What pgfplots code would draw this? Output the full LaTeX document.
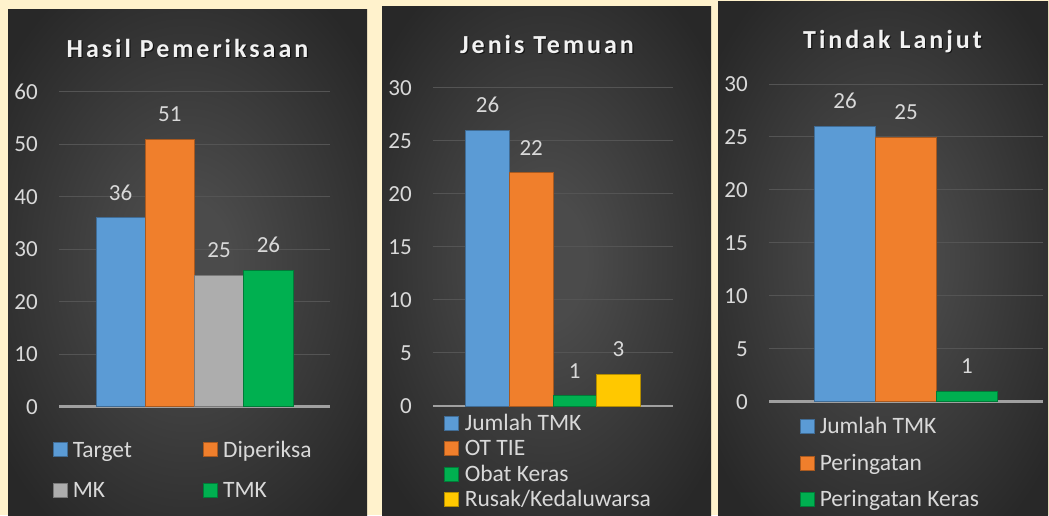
\documentclass[border=0pt]{standalone}
\usepackage{pgfplots}
\pgfplotsset{compat=1.18}
\usepackage{fontspec}
\setmainfont{Carlito}
\newfontfamily\titlefont[LetterSpace=11.5]{Carlito}
\definecolor{bg}{HTML}{FFF2CC}
\definecolor{pin}{HTML}{4B4B4B}
\definecolor{pout}{HTML}{282828}
\definecolor{cblue}{HTML}{5B9BD5}
\definecolor{corange}{HTML}{F07F2C}
\definecolor{cgray}{HTML}{ADADAD}
\definecolor{cgreen}{HTML}{00B050}
\definecolor{cyellow}{HTML}{FFC800}
\definecolor{txt}{HTML}{D9D9D9}
\definecolor{ttl}{HTML}{F2F2F2}
\definecolor{gridc}{HTML}{545454}
\definecolor{zeroc}{HTML}{A0A0A0}
\pgfdeclareradialshading{pshade}{\pgfpoint{0bp}{0bp}}{color(0bp)=(pin); color(6bp)=(pin); color(32bp)=(pout); color(50bp)=(pout)}
\newcommand\tf{\fontsize{23}{27}\selectfont}
\newcommand\lf{\fontsize{23.5}{27}\selectfont}
\pgfplotsset{
  /pgf/number format/assume math mode=true,
  panel/.style={
    scale only axis, ybar, bar shift=0pt, bar width=1,
    axis line style={draw=none}, xtick=\empty,
    major tick length=0pt, ymin=0,
    ymajorgrids, grid style={gridc, line width=1pt},
    extra y ticks={0}, extra y tick style={grid style={zeroc, line width=2.5pt}},
    tick label style={font=\tf, text=txt},
    yticklabel style={inner sep=0pt, xshift=-21pt},
    nodes near coords,
    nodes near coords style={font=\tf, text=txt, anchor=south, inner sep=0pt, yshift=17pt},
    legend cell align=left,
    legend image code/.code={\fill[##1] (0pt,-7pt) rectangle (14pt,7pt); \path[draw=none,fill=none] (0pt,0pt) -- (20pt,0pt);},
    legend style={draw=none, fill=none, inner sep=0pt, anchor=north west, font=\lf, text=txt,
      nodes={inner sep=0pt, text height=19.8pt, text depth=5pt}, column sep=0pt},
    clip=false,
  },
  b1/.style={fill=cblue, draw=cblue!70!black, line width=0.6pt},
  b2/.style={fill=corange, draw=corange!70!black, line width=0.6pt},
  b3/.style={fill=cgray, draw=cgray!70!black, line width=0.6pt},
  b4/.style={fill=cgreen, draw=cgreen!70!black, line width=0.6pt},
  b5/.style={fill=cyellow, draw=cyellow!70!black, line width=0.6pt},
}
\begin{document}
\begin{tikzpicture}[x=1pt,y=1pt]
\useasboundingbox (0,0) rectangle (1049,515);
\fill[bg] (0,0) rectangle (1049,515);
\shade[shading=pshade] (8,0) rectangle (367,505);
\shade[shading=pshade] (382,0) rectangle (711,508);
\shade[shading=pshade] (718,0) rectangle (1048,513);

% Panel 1
\begin{axis}[panel, at={(59pt,108.3pt)}, anchor=south west, width=271pt, height=315pt,
  xmin=-1.25, xmax=4.25, ymax=60, ytick={10,20,...,60},
  legend columns=2,
  legend style={at={(axis description cs:-0.0247,-0.0965)}, row sep=15.7pt,
    /tikz/every even column/.append style={column sep=71pt}}]
\addplot[b1] coordinates {(0,36)};
\addplot[b2] coordinates {(1,51)};
\addplot[b3] coordinates {(2,25)};
\addplot[b4] coordinates {(3,26)};
\legend{Target, Diperiksa, MK, TMK}
\end{axis}

% Panel 2
\begin{axis}[panel, at={(433pt,109pt)}, anchor=south west, width=240pt, height=318.3pt,
  xmin=-1.25, xmax=4.25, ymax=30, ytick={5,10,...,30},
  legend style={at={(axis description cs:0.047,-0.0135)}, row sep=0.7pt}]
\addplot[b1] coordinates {(0,26)};
\addplot[b2] coordinates {(1,22)};
\addplot[b4] coordinates {(2,1)};
\addplot[b5] coordinates {(3,3)};
\legend{Jumlah TMK, OT TIE, Obat Keras, Rusak/Kedaluwarsa}
\end{axis}

% Panel 3
\begin{axis}[panel, at={(769pt,113.3pt)}, anchor=south west, width=274pt, height=317.7pt,
  xmin=-1.25, xmax=3.25, ymax=30, ytick={5,10,...,30},
  legend style={at={(axis description cs:0.1106,-0.0384)}, row sep=11.6pt}]
\addplot[b1] coordinates {(0,26)};
\addplot[b2] coordinates {(1,25)};
\addplot[b4] coordinates {(2,1)};
\legend{Jumlah TMK, Peringatan, Peringatan Keras}
\end{axis}

% Titles
\foreach \x/\y/\t in {187.5/457.7/Hasil Pemeriksaan, 547/461.7/Jenis Temuan, 892.5/466.7/Tindak Lanjut}{
  \node[anchor=base, inner sep=0pt, text=black, opacity=0.6, font=\titlefont\bfseries\fontsize{26}{30}\selectfont] at (\x+1.2,\y-1.5) {\t};
  \node[anchor=base, inner sep=0pt, text=ttl, font=\titlefont\bfseries\fontsize{26}{30}\selectfont] at (\x,\y) {\t};
}
\end{tikzpicture}
\end{document}
